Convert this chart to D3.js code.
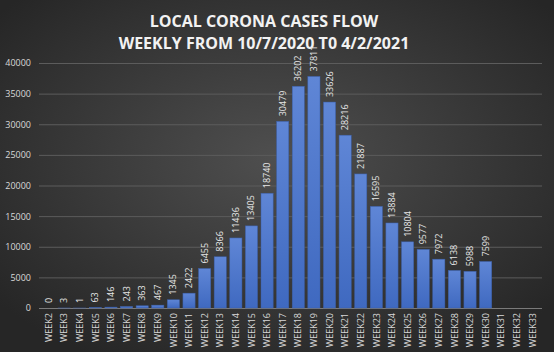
<!DOCTYPE html>
<html lang="en">
<head>
    <meta charset="UTF-8">
    <title>Local corona cases flow</title>
    <script src="https://d3js.org/d3.v7.min.js"></script>
    <style>
        body { margin: 0; background: #333; }
        text { font-family: "Open Sans", "Noto Sans", sans-serif; }
    </style>
</head>
<body>
    <svg width="554" height="352" id="svg1"></svg>
    <script>
        // data
        const weeks = d3.range(2, 34).map(i => 'WEEK' + i);
        const cases = [0, 3, 1, 63, 146, 243, 363, 467, 1345, 2422, 6455, 8366, 11436, 13405, 18740,
            30479, 36202, 37811, 33626, 28216, 21887, 16595, 13884, 10804, 9577, 7972, 6138, 5988, 7599,
            null, null, null];
        const yTicks = [0, 5000, 10000, 15000, 20000, 25000, 30000, 35000, 40000];
        const titleLines = ['LOCAL CORONA CASES FLOW', 'WEEKLY FROM 10/7/2020 T0 4/2/2021'];

        const svg = d3.select('#svg1');
        const width = +svg.attr('width');
        const height = +svg.attr('height');

        const margin = { top: 63, right: 12, bottom: 44, left: 39 };
        const innerWidth = width - margin.left - margin.right;
        const innerHeight = height - margin.top - margin.bottom;

        // background gradient
        const defs = svg.append('defs');
        const bg = defs.append('radialGradient').attr('id', 'bg')
            .attr('cx', '50%').attr('cy', '45%').attr('r', '65%');
        bg.append('stop').attr('offset', '0%').attr('stop-color', '#4f4f4f');
        bg.append('stop').attr('offset', '100%').attr('stop-color', '#262626');

        const barGrad = defs.append('linearGradient').attr('id', 'bar')
            .attr('x1', 0).attr('y1', 0).attr('x2', 0).attr('y2', 1);
        barGrad.append('stop').attr('offset', '0%').attr('stop-color', '#5f86d6');
        barGrad.append('stop').attr('offset', '100%').attr('stop-color', '#3f69c0');

        svg.append('rect').attr('width', width).attr('height', height).attr('fill', 'url(#bg)');

        svg.selectAll('.title')
            .data(titleLines)
            .enter().append('text')
            .attr('class', 'title')
            .attr('x', 264)
            .attr('y', (d, i) => 27 + i * 22)
            .attr('text-anchor', 'middle')
            .attr('fill', '#f2f2f2')
            .attr('font-size', 16)
            .attr('font-weight', 'bold')
            .text(d => d);

        const g = svg.append('g')
            .attr('transform', `translate(${margin.left}, ${margin.top})`);

        const x = d3.scaleBand()
            .domain(weeks)
            .range([0, innerWidth])
            .padding(0.22);

        const y = d3.scaleLinear()
            .domain([0, 40000])
            .range([innerHeight, 0]);

        // grid + y labels
        const yAxis = g.append('g')
            .call(d3.axisLeft(y).tickValues(yTicks).tickFormat(d3.format('d')).tickSize(-innerWidth).tickPadding(8));
        yAxis.select('.domain').remove();
        yAxis.selectAll('.tick line').attr('stroke', '#5c5c5c').attr('stroke-width', 1);
        yAxis.selectAll('.tick text').attr('fill', '#d9d9d9').attr('font-size', 9);
        yAxis.selectAll('.tick').filter(d => d === 0).select('line').attr('stroke', '#7a7a7a');

        // bars
        const valid = weeks.map((w, i) => ({ week: w, value: cases[i] })).filter(d => d.value !== null);

        g.selectAll('rect.bar')
            .data(valid)
            .enter().append('rect')
            .attr('class', 'bar')
            .attr('x', d => x(d.week))
            .attr('y', d => y(d.value))
            .attr('width', x.bandwidth())
            .attr('height', d => innerHeight - y(d.value))
            .attr('fill', 'url(#bar)')
            .attr('stroke', '#3a5ea8')
            .attr('stroke-width', 0.5);

        // value labels
        g.selectAll('text.val')
            .data(valid)
            .enter().append('text')
            .attr('class', 'val')
            .attr('transform', d => `translate(${x(d.week) + x.bandwidth() / 2 + 3}, ${y(d.value) - 5}) rotate(-90)`)
            .attr('fill', '#e6e6e6')
            .attr('font-size', 9)
            .text(d => d.value);

        // x axis
        const xAxis = g.append('g')
            .attr('transform', `translate(0, ${innerHeight})`)
            .call(d3.axisBottom(x).tickSize(0).tickPadding(0));
        xAxis.select('.domain').remove();
        xAxis.selectAll('.tick text')
            .attr('fill', '#d9d9d9')
            .attr('font-size', 9)
            .attr('text-anchor', 'end')
            .attr('transform', 'rotate(-90)')
            .attr('x', -5)
            .attr('y', 0)
            .attr('dy', '0.35em');
    </script>
</body>
</html>
